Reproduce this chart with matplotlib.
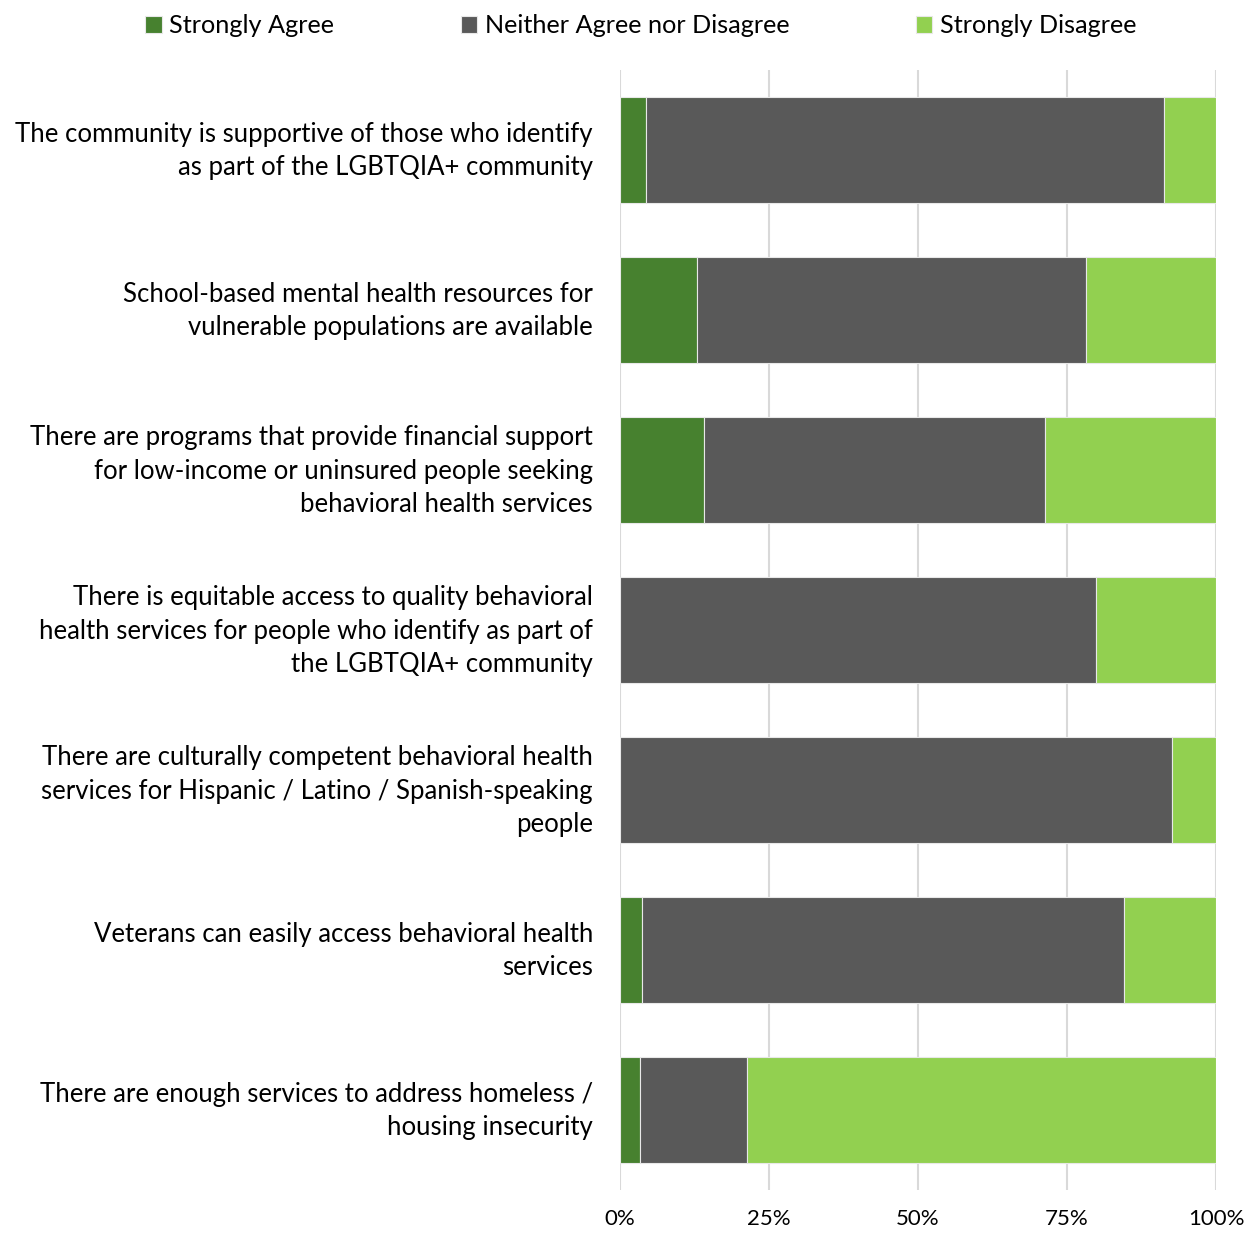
import matplotlib.pyplot as plt
import matplotlib.transforms as mtransforms
import numpy as np

plt.rcParams['font.family'] = ['Lato', 'DejaVu Sans']

statements = [
    "The community is supportive of those who identify\nas part of the LGBTQIA+ community",
    "School-based mental health resources for\nvulnerable populations are available",
    "There are programs that provide financial support\nfor low-income or uninsured people seeking\nbehavioral health services",
    "There is equitable access to quality behavioral\nhealth services for people who identify as part of\nthe LGBTQIA+ community",
    "There are culturally competent behavioral health\nservices for Hispanic / Latino / Spanish-speaking\npeople",
    "Veterans can easily access behavioral health\nservices",
    "There are enough services to address homeless /\nhousing insecurity",
]
strongly_agree = [4.4, 12.9, 14.1, 0.0, 0.0, 3.7, 3.4]
neither = [86.9, 65.3, 57.2, 79.9, 92.6, 80.9, 17.9]
strongly_disagree = [8.7, 21.8, 28.7, 20.1, 7.4, 15.4, 78.7]

series = [
    ("Strongly Agree", strongly_agree, "#47812f"),
    ("Neither Agree nor Disagree", neither, "#595959"),
    ("Strongly Disagree", strongly_disagree, "#92d050"),
]

fig = plt.figure(figsize=(12.54, 12.35), dpi=100)
ax = fig.add_axes([0.4944, 0.0364, 0.4753, 0.9069])

y = np.arange(len(statements))
left = np.zeros(len(statements))
for name, vals, color in series:
    vals = np.array(vals)
    ax.barh(y, vals, left=left, height=0.667, color=color, label=name,
            edgecolor="#e8e8e8", linewidth=0.8, zorder=3)
    left += vals

ax.set_xlim(0, 100)
ax.set_ylim(len(statements) - 0.5, -0.5)
ax.set_xticks([0, 25, 50, 75, 100])
ax.set_xticklabels(["0%", "25%", "50%", "75%", "100%"], fontsize=16)
ax.set_yticks(y)
ax.set_yticklabels(statements, fontsize=18.5, linespacing=1.42)
ax.tick_params(axis="y", length=0, pad=19.5)
ax.tick_params(axis="x", length=0, pad=14)
# nudge the wrapped labels up a little so they sit centred on the bars
shift = mtransforms.ScaledTranslation(0, 4 / 72, fig.dpi_scale_trans)
for lbl in ax.get_yticklabels():
    lbl.set_transform(lbl.get_transform() + shift)
ax.grid(axis="x", color="#d9d9d9", linewidth=1.5, zorder=0)
for s in ax.spines.values():
    s.set_visible(False)

fig.legend(loc="center", bbox_to_anchor=(0.511, 0.979), ncol=3,
           frameon=False, fontsize=18.2, handlelength=0.65, handleheight=0.65,
           handletextpad=0.3, columnspacing=5.0)

fig.savefig("out.png", dpi=100)
